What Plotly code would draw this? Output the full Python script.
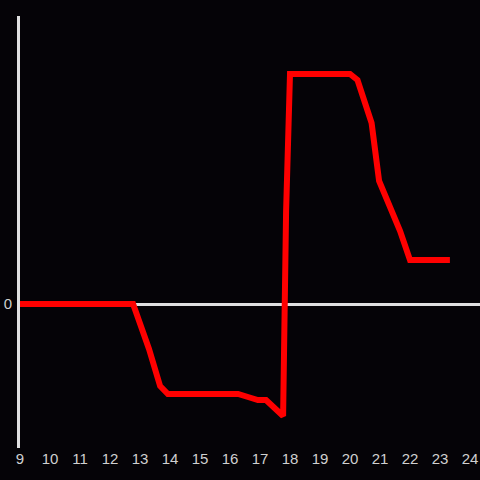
import plotly.graph_objects as go

hours = [9, 10, 11, 12, 12.77, 13.3, 13.67, 13.93, 15, 16.27, 16.6, 16.93, 17.2, 17.77, 17.87, 18.0, 19, 20.0, 20.25, 20.72, 20.97, 21.67, 22.0, 23.33]
values = [0, 0, 0, 0, 0, -4.5, -8.2, -9.0, -9.0, -9.0, -9.3, -9.6, -9.6, -11.2, 9.3, 23.0, 23.0, 23.0, 22.4, 18.1, 12.3, 7.3, 4.4, 4.4]
x_ticks = list(range(9, 25))

bg = "#050307"
fig = go.Figure(go.Scatter(x=hours, y=values, mode="lines",
                           line=dict(color="#ff0000", width=6)))
axis_col = "#e0e0e0"
fig.update_layout(
    width=480, height=480,
    paper_bgcolor=bg, plot_bgcolor=bg,
    margin=dict(l=20, r=0, t=16, b=32),
    showlegend=False,
    font=dict(family="Liberation Sans, Arial, sans-serif", size=15, color="#d0d0d0"),
    xaxis=dict(range=[9, 9 + 460 / 30], tickvals=x_ticks, showgrid=False,
               zeroline=False, showline=False, ticks="", automargin=False),
    yaxis=dict(range=[-14.4, 28.8], tickvals=[0], showgrid=False,
               zeroline=True, zerolinecolor=axis_col, zerolinewidth=3,
               showline=True, linecolor=axis_col, linewidth=3,
               ticks="", automargin=False, ticklabelstandoff=2),
)
fig.write_html("out.html", config={"displayModeBar": False},
               post_script="document.body.style.margin='0';"
                           "document.body.style.background='%s';" % bg)
